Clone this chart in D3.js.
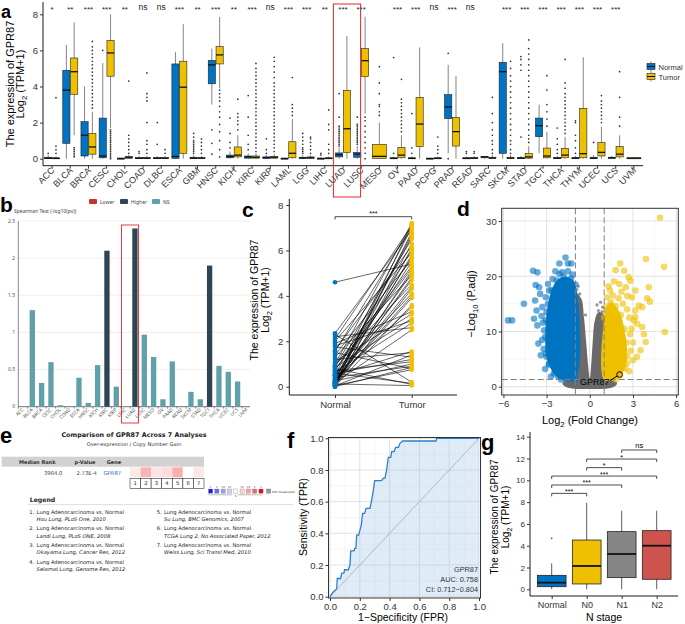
<!DOCTYPE html>
<html><head><meta charset="utf-8">
<script src="https://cdn.jsdelivr.net/npm/d3@7"></script>
<style>
body{margin:0;background:#fff;}
svg{display:block;font-family:"Liberation Sans",Arial,sans-serif;}
</style></head><body>
<svg id="fig" width="685" height="624"></svg>
<script>
// ---------- panel a data ----------
var cancers = ["ACC","BLCA","BRCA","CESC","CHOL","COAD","DLBC","ESCA","GBM","HNSC","KICH","KIRC","KIRP","LAML","LGG","LIHC","LUAD","LUSC","MESO","OV","PAAD","PCPG","PRAD","READ","SARC","SKCM","STAD","TGCT","THCA","THYM","UCEC","UCS","UVM"];
var signif = ["*","**","***","***","**","ns","ns","***","**","***","**","***","ns","***","***","**","***","***","","***","***","ns","***","ns","","***","***","***","***","***","***","***",""];
// [low whisker, q1, median, q3, high whisker]
var normalBox = [[0,0,0.03,0.08,0.2],[0,0.85,3.8,4.9,6.3],[0,0.15,1.3,2.05,4.0],[0,0.05,0.15,2.25,5.3],[0,0,0.01,0.03,0.05],[0,0,0.02,0.06,0.15],[0,0,0.02,0.06,0.15],[0,0.02,0.12,5.25,5.9],[0,0,0.03,0.08,0.2],[3.0,4.15,5.2,5.45,6.1],[0,0.05,0.12,0.2,0.4],[0,0.03,0.1,0.15,0.3],[0,0.02,0.06,0.1,0.2],[0,0,0.01,0.03,0.05],[0,0.01,0.04,0.08,0.2],[0,0,0.01,0.03,0.08],[0,0.1,0.22,0.32,0.6],[0,0.08,0.25,0.35,0.7],null,[0,0,0.02,0.05,0.1],[0,0,0.02,0.05,0.12],[0,0,0.01,0.03,0.05],[0.3,2.22,2.87,3.55,5.2],[0,0,0.02,0.05,0.12],[0,0.05,0.1,0.12,0.15],[0,0.3,4.82,5.34,6.4],[0,0,0.03,0.06,0.15],[0.3,1.22,1.83,2.25,3.0],[0,0.01,0.03,0.06,0.15],[0,0.01,0.03,0.06,0.15],[0,0.01,0.03,0.08,0.2],[0,0.02,0.05,0.08,0.15],null];
var tumorBox = [[0,0,0.02,0.05,0.12],[1.3,3.57,4.82,5.58,7.55],[0,0.25,0.65,1.4,2.6],[1.7,4.57,5.86,6.54,8.0],[0,0.02,0.08,0.12,0.2],[0,0.01,0.03,0.06,0.15],[0,0.01,0.03,0.06,0.15],[0,0.3,3.96,5.4,7.45],[0,0.01,0.03,0.06,0.15],[3.9,5.25,5.75,6.21,7.85],[0,0.1,0.2,0.65,1.3],[0,0.03,0.08,0.15,0.3],[0,0.03,0.08,0.12,0.25],[0,0.05,0.3,0.94,2.2],[0,0.02,0.05,0.1,0.2],[0,0,0.02,0.05,0.12],[0,0.35,1.66,3.79,6.8],[2.5,4.55,5.43,6.1,7.87],[0,0.02,0.13,0.79,2.0],[0,0.05,0.2,0.63,1.3],[0,0.67,1.92,3.4,6.17],[0,0,0.02,0.05,0.12],[0,0.7,1.5,2.29,4.58],[0,0,0.03,0.06,0.15],[0,0.01,0.04,0.08,0.2],[0,0.01,0.04,0.08,0.2],[0,0.03,0.1,0.28,0.7],[0,0.05,0.15,0.59,1.5],[0,0.05,0.2,0.57,1.2],[0,0.05,0.28,2.79,5.62],[0,0.15,0.35,0.89,1.77],[0,0.1,0.25,0.68,1.3],[0,0.01,0.03,0.05,0.1]];
var normalOut = [[0.3],[],[],[6.0],[],[0.3,0.4],[0.8,2.0],[],[0.3,0.4,0.5,0.6,0.7,0.8,0.9,1.0,1.2,1.4],[1.6,0.85,0.25],[0.6,0.9,1.4,2.25],[0.5,0.8,1.3,2.3,3.5],[0.3,0.5,1.1],[],[0.3,0.4,0.5,0.6,0.8,1.0,1.2,1.4],[0.2,0.3],[0.7,0.8,0.9,1.0,1.1,1.2,1.3,1.4,1.5,1.6,1.7,1.8,2.3,3.6],[0.8,0.9,1.0,1.1,1.2,1.3,1.4,1.5,1.6,1.7,1.8,1.9,2.3],[],[0.3,5.6],[0.3,0.6,2.5],[],[0,5.84],[0.3,0.4],[],[],[1.2,4.9,5.2,5.5,5.66],[],[0.3,0.5,0.8,1.1,1.7],[0.3,0.6,1.0,1.3,2.0,2.1],[0.9],[],[]];
var tumorOut = [[0.3,0.5,0.7,3.38],[0.1,0.2,0.3,0.4,0.5,0.6],[2.8,3.0,3.2,3.4,3.6,3.8,4.0,4.2,4.4,4.6,4.8,5.0,5.2,5.4,5.6,5.8,6.0,6.2,6.5],[0,0.1,0.2,0.3,0.4,0.5,0.6,0.7,0.8,0.9,1.0,1.1,1.2,1.3,1.4,1.5,1.6],[0.3,0.5,0.7,0.9,1.1,1.3,4.3],[0.3,0.5,0.8,1.0,2.0,3.2,3.4,3.6,4.75],[0.3,0.5],[],[0.3,0.5,0.7,0.9,1.1],[0.1,0.5,1.0,1.5,1.9,2.3,2.6,2.9,3.2,3.4,3.6,3.8],[1.6,1.9,2.1,2.3,2.5,3.3],[0.4,0.6,0.8,1.0,1.2,1.4,1.6,1.8,2.0,2.2,2.4,2.6,2.8,3.0,3.2,3.4,3.6,3.8,4.0,4.2,4.4,4.6,4.8,5.0,5.28],[0.4,0.6,0.8,1.0,1.2,1.4,1.6,1.8,2.0,2.2,2.4,2.6,2.8,3.0,3.2,3.4,3.6,3.8,4.0,4.2,4.5,4.8,5.1,5.4,5.62],[2.4,2.6,2.8,3.0,4.5],[0.3,0.5,0.7,0.9,1.1,1.2],[0.3,0.5,0.8,1.6,1.9,2.7],[],[0,0.3,0.6,0.9,1.2,1.5,1.8,2.1,2.3],[2.4,2.6,2.9,3.0,3.6,4.2,5.1],[1.5,1.7,1.9,2.1,2.3,2.5,2.7,2.9,3.1,3.3,4.4],[],[0.3,0.5,0.7,1.2],[],[0.3,0.4],[0.3,0.5,0.8,1.0,1.3,1.6,2.0,2.5,3.4],[0.3,0.5,0.8,1.0,1.3,1.6,1.9,2.2,2.5,2.8,3.1,3.4,3.7,4.0,4.3,4.6,5.0,5.4],[0.9,1.1,1.3,1.6,1.9,2.2,2.5,2.8,3.1,3.4,3.7,4.0,4.3,4.6,4.9,5.2,5.5,5.8,6.1,6.58],[1.8,2.2,2.6,3.0,3.8,4.6],[1.4,1.6,1.8,2.0,2.2,2.4,2.6,2.8,3.0,3.2,3.4,3.6,3.9,4.2,5.5],[],[2.0,2.2,2.4,2.6,2.8,3.0,3.2,3.5],[1.8,2.3,3.4,4.82],[]];
var aTicks = [0,2,4,6,8];

// ---------- panel b data ----------
var bCats = ["ACC","BLCA","BRCA","CESC","CHOL","COAD","ESCA","HNSC","KICH","KIRC","KIRP","LIHC","LUAD","LUSC","MESO","OV","PAAD","READ","SKCM","STAD","TGCT","THCA","UCEC","UCS","UVM"];
var bVals = [0,1.3,0.32,0.6,0.02,0,0.39,0.05,0.56,2.1,0.27,0,2.4,0.97,0.67,0.1,0.61,0,0.2,0.1,1.9,0.55,0.47,0.34,0];
var bType = ["NS","NS","NS","NS","NS","NS","NS","NS","NS","Higher","NS","NS","Higher","NS","NS","NS","NS","NS","NS","NS","Higher","NS","NS","NS","NS"];
var bTicks = [0,0.5,1,1.5,2,2.5];
var bLegend = ["Lower","Higher","NS"];

// ---------- panel c data (paired LUAD samples) ----------
var cNormal = [4.6,2.35,2.2,2.1,2.0,1.9,1.75,1.6,1.5,1.4,1.3,1.2,1.0,0.95,0.9,0.85,0.8,0.75,0.7,0.65,0.6,0.55,0.5,0.45,0.4,0.35,0.3,0.28,0.25,0.22,0.2,0.18,0.15,0.12,0.1,0.08,0.05,0.03,0.0,1.1,0.6,0.4,0.2,0.1,0.05,1.8,0.9,0.7,0.3,0.15,0.02,2.3,1.55,0.5,0.25,0.0,0.12];
var cTumor = [5.4,6.9,2.6,7.1,5.9,3.3,1.3,6.2,0.8,5.6,4.9,1.5,7.2,4.5,6.5,3.0,0.1,5.2,6.0,2.8,1.2,4.1,7.0,5.7,0.9,3.5,6.7,4.7,1.0,5.0,6.3,2.5,3.9,0.05,5.8,7.15,4.3,1.4,6.1,3.2,0.15,5.5,4.0,6.8,0.75,2.9,5.3,1.1,6.6,4.8,3.6,0.2,7.05,1.55,4.4,0.85,5.1];
var cTicks = [0,2,4,6,8];

// ---------- panel d data (volcano) ----------
var dCoreBlue = [[-1.0,1.3],[-1.0,18.5],[-1.3,19.6],[-1.8,19.9],[-2.3,19.2],[-2.65,17.5],[-2.9,15],[-3.05,12],[-3.1,9],[-3.05,6],[-2.85,4],[-2.5,2.4],[-2.0,1.3]];
var dCoreGray = [[-1.0,1.3],[-1.0,17.0],[-0.6,16.0],[-0.4,12.5],[-0.25,8],[-0.12,4],[0,1.5],[0.1,4],[0.2,8],[0.35,12],[0.6,13.5],[1.0,13.0],[1.0,1.3],[1.6,1.3],[1.9,0.6],[1.5,-0.2],[0,-0.4],[-1.5,-0.2],[-1.9,0.6],[-1.6,1.3]];
var dCoreYellow = [[1.0,1.3],[1.0,12.5],[1.15,14.5],[1.45,15.3],[1.8,14.6],[2.15,13.0],[2.4,10.5],[2.55,8],[2.6,5.5],[2.45,3.3],[2.1,2.0],[1.8,1.3]];
var dDown = [[-1.69,23.4],[-2.11,22.3],[-1.52,22.3],[-1.29,22.3],[-3.94,21.0],[-3.64,20.7],[-2.39,20.9],[-1.92,20.7],[-3.76,18.4],[-3.52,18.0],[-4.58,15.0],[-5.68,12.0],[-5.4,12.0],[-3.8,15.6],[-3.7,13.8],[-3.87,12.3],[-3.64,11.1],[-3.57,7.8],[-3.4,5.7],[-3.0,5.4],[-2.82,4.2],[-2.39,2.7],[-2.7,1.8],[-3.17,10.2],[-3.29,14.4],[-3.05,16.2],[-2.82,17.4],[-2.58,19.5],[-2.11,20.4],[-1.52,20.9],[-3.3,8.5],[-3.2,6.8],[-3.35,12.8],[-3.1,3.2],[-2.2,1.9],[-1.2,20.3],[-2.9,18.6],[-3.45,16.8],[-3.0,13.5],[-3.25,11.6]];
var dUp = [[4.88,30.6],[5.16,21.7],[3.9,23.1],[2.11,22.3],[1.8,21.1],[2.39,21.0],[1.69,19.1],[2.7,19.8],[2.82,19.2],[4.1,18.0],[3.17,17.4],[2.93,16.2],[3.99,16.0],[4.18,15.4],[3.41,14.7],[3.64,14.4],[3.17,12.6],[3.29,11.4],[3.64,10.8],[3.76,9.5],[3.88,8.1],[5.21,9.9],[3.52,6.6],[3.29,5.4],[3.0,4.8],[2.58,4.2],[2.23,3.3],[2.0,2.7],[3.17,13.8],[1.2,16.2],[1.41,17.4],[2.9,10.5],[3.0,8.0],[2.85,6.5],[2.5,18.0],[2.05,18.6],[3.05,12.0],[2.75,2.8],[1.6,16.5],[2.0,16.0],[2.3,15.0],[2.6,14.0],[2.75,12.5],[2.8,9.5],[1.3,18.2],[2.2,17.2],[2.6,16.4]];
var dNS = [[-0.8,18.2],[-0.7,16.8],[0.5,14.8],[0.75,15.3],[0.9,14.4],[0.6,13.8],[-0.3,13.0],[-0.9,17.6],[0.85,13.6]];
var dGene = {name:"GPR87", fc:2.07, p:2.2};
var dXTicks = [-6,-3,0,3,6], dYTicks = [0,10,20,30];

// ---------- panel e data (Oncomine) ----------
var eCells = ["#fde8e8","#f8b4b4","#fde4e4","#fcdcdc","#f7b0b0","#ffffff","#fde6e6"];
var eScale = ["#1a1ae6","#6a6af0","#9c9cf4","#cfcff9","#ffffff","#fbd3d3","#f6a3a3","#ee6a6a","#e01010"];
var eScaleNum = ["1","5","10","25","","25","10","5","1"];
var eLegend = [
  ["1.","Lung Adenocarcinoma vs. Normal","Hou Lung, PLoS One, 2010"],
  ["2.","Lung Adenocarcinoma vs. Normal","Landi Lung, PLoS ONE, 2008"],
  ["3.","Lung Adenocarcinoma vs. Normal","Okayama Lung, Cancer Res, 2012"],
  ["4.","Lung Adenocarcinoma vs. Normal","Selamat Lung, Genome Res, 2012"],
  ["5.","Lung Adenocarcinoma vs. Normal","Su Lung, BMC Genomics, 2007"],
  ["6.","Lung Adenocarcinoma vs. Normal","TCGA Lung 2, No Associated Paper, 2012"],
  ["7.","Lung Adenocarcinoma vs. Normal","Weiss Lung, Sci Transl Med, 2010"]];

// ---------- panel f data (ROC) ----------
var rocFPR = [0,0.022,0.045,0.049,0.072,0.078,0.094,0.098,0.123,0.134,0.139,0.161,0.166,0.174,0.179,0.192,0.201,0.21,0.219,0.232,0.242,0.268,0.28,0.291,0.3,0.347,0.358,0.369,0.38,0.391,0.407,0.414,0.43,0.441,0.459,0.47,0.488,0.712,0.716,1.0];
var rocTPR = [0,0.03,0.05,0.115,0.115,0.147,0.15,0.17,0.17,0.2,0.289,0.289,0.305,0.305,0.389,0.389,0.42,0.452,0.526,0.526,0.558,0.558,0.61,0.674,0.733,0.733,0.748,0.748,0.8,0.88,0.88,0.916,0.916,0.943,0.943,0.968,0.983,0.983,1.0,1.0];
var rocText = ["GPR87","AUC: 0.758","CI: 0.712\u22120.804"];
var fTicks = [0,0.2,0.4,0.6,0.8,1.0];

// ---------- panel g data ----------
var gGroups = ["Normal","N0","N1","N2"];
var gBox = [[0,0.24,0.61,1.28,2.38],[0,0.49,2.14,4.52,7.95],[0,1.07,3.24,5.29,7.21],[0,0.92,4.0,5.38,7.21]];
var gOut = [[4.68],[],[],[]];
var gComp = [["N1","N2",12.78,"ns"],["N0","N2",11.95,"*"],["N0","N1",11.16,"*"],["Normal","N2",10.39,"***"],["Normal","N1",9.57,"***"],["Normal","N0",8.8,"***"]];
var gTicks = [0,2,4,6,8,10,12,14];

var BLUE = "#0073C2", YEL = "#EFC000", GRY = "#868686", RED = "#CD534C";
var FONT = "'Liberation Sans', Arial, sans-serif";
var svg = d3.select("#fig");

function logText(sel, pre, base, post) {
  sel.append("tspan").text(pre + base);
  sel.append("tspan").attr("font-size", "70%").attr("dy", 3).text("2");
  sel.append("tspan").attr("dy", -3).text(post);
}
function vlabel(x, y, fs) {
  return svg.append("text").attr("transform", "translate(" + x + "," + y + ") rotate(-90)")
    .attr("text-anchor", "middle").attr("font-size", fs).attr("fill", "#000");
}
function letter(t, x, y, fs) {
  svg.append("text").attr("x", x).attr("y", y).attr("font-size", fs || 21)
    .attr("font-weight", "bold").attr("font-family", "'Liberation Sans', Arial").text(t);
}
function styleAxis(g, fs) {
  g.attr("font-family", FONT).attr("font-size", fs);
  g.select(".domain").remove();
  g.selectAll("text").attr("fill", "#333");
  g.selectAll("line").attr("stroke", "#333");
}
function drawBox(g, cx, w, st, y, fill, outs, lw, medw, r) {
  g.append("line").attr("x1", cx).attr("x2", cx).attr("y1", y(st[0])).attr("y2", y(st[4]))
    .attr("stroke", "#333").attr("stroke-width", lw);
  var top = y(st[3]), h = Math.max(y(st[1]) - y(st[3]), 1);
  g.append("rect").attr("x", cx - w / 2).attr("y", top).attr("width", w).attr("height", h)
    .attr("fill", fill).attr("stroke", "#222").attr("stroke-width", lw);
  g.append("line").attr("x1", cx - w / 2).attr("x2", cx + w / 2).attr("y1", y(st[2])).attr("y2", y(st[2]))
    .attr("stroke", "#111").attr("stroke-width", medw);
  g.selectAll(null).data(outs).enter().append("circle")
    .attr("cx", cx).attr("cy", function(d) { return y(d); }).attr("r", r).attr("fill", "#333");
}

// ================= panel a =================
(function() {
  var g = svg.append("g");
  var x = d3.scaleBand().domain(cancers).range([43, 643]);
  var y = d3.scaleLinear().domain([0, 8]).range([158.7, 14.3]);
  g.append("line").attr("x1", 43).attr("x2", 43).attr("y1", 2).attr("y2", 165.7).attr("stroke", "#000").attr("stroke-width", 0.9);
  g.append("line").attr("x1", 43).attr("x2", 643).attr("y1", 165.7).attr("y2", 165.7).attr("stroke", "#000").attr("stroke-width", 0.9);
  var ay = g.append("g").attr("transform", "translate(43,0)")
    .call(d3.axisLeft(y).tickValues(aTicks).tickSize(3).tickPadding(2));
  styleAxis(ay, 9.5);
  cancers.forEach(function(c, i) {
    var cx = x(c) + x.bandwidth() / 2;
    g.append("line").attr("x1", cx).attr("x2", cx).attr("y1", 165.7).attr("y2", 168.7).attr("stroke", "#333");
    g.append("text").attr("transform", "translate(" + (cx + 3) + ",171) rotate(-45)")
      .attr("text-anchor", "end").attr("font-size", 9).attr("fill", "#333").text(c);
    g.append("text").attr("x", cx).attr("y", signif[i] === "ns" ? 10 : 12).attr("text-anchor", "middle")
      .attr("font-size", signif[i] === "ns" ? 8.5 : 8).attr("fill", "#222").text(signif[i]);
    var nb = normalBox[i], tb = tumorBox[i];
    if (nb && tb) {
      drawBox(g, cx - 3.9, 7.2, nb, y, BLUE, normalOut[i], 0.6, 1.3, 0.85);
      drawBox(g, cx + 3.9, 7.2, tb, y, YEL, tumorOut[i], 0.6, 1.3, 0.85);
    } else if (tb) {
      drawBox(g, cx, 14, tb, y, YEL, tumorOut[i], 0.6, 1.3, 0.85);
    }
  });
  // y title
  vlabel(14, 84, 11).text("The expression of GPR87");
  logText(vlabel(24, 84, 11), "", "Log", " (TPM+1)");
  // legend
  [["Normal", BLUE], ["Tumor", YEL]].forEach(function(d, i) {
    var yy = 63 + i * 10;
    g.append("line").attr("x1", 651).attr("x2", 651).attr("y1", yy - 1.5).attr("y2", yy + 8.5).attr("stroke", "#333").attr("stroke-width", 0.6);
    g.append("rect").attr("x", 647).attr("y", yy + 0.5).attr("width", 8).attr("height", 6).attr("fill", d[1]).attr("stroke", "#222").attr("stroke-width", 0.6);
    g.append("line").attr("x1", 647).attr("x2", 655).attr("y1", yy + 3.5).attr("y2", yy + 3.5).attr("stroke", "#111").attr("stroke-width", 1);
    g.append("text").attr("x", 658.5).attr("y", yy + 6.5).attr("font-size", 7.5).attr("fill", "#333").text(d[0]);
  });
  // highlight LUAD
  g.append("rect").attr("x", x("LUAD") - 0.5).attr("y", 4).attr("width", x.bandwidth() + 9).attr("height", 193)
    .attr("fill", "none").attr("stroke", "#e8262b").attr("stroke-width", 1);
  letter("a", 1, 18, 18);
})();

// ================= panel b =================
(function() {
  var g = svg.append("g").attr("font-family", "'Noto Sans', 'Open Sans', sans-serif");
  var x = d3.scaleBand().domain(bCats).range([18.3, 251.6]).paddingInner(0.43).paddingOuter(0.215);
  var y = d3.scaleLinear().domain([0, 2.5]).range([406.7, 221]);
  var col = {Lower: "#c23531", Higher: "#2f4554", NS: "#61a0a8"};
  bTicks.forEach(function(t) {
    g.append("line").attr("x1", 18.3).attr("x2", 250).attr("y1", y(t)).attr("y2", y(t))
      .attr("stroke", t === 0 ? "#333" : "#e4e4e4").attr("stroke-width", t === 0 ? 0.7 : 0.6);
    g.append("text").attr("x", 15).attr("y", y(t) + 1.7).attr("text-anchor", "end")
      .attr("font-size", 5).attr("fill", "#555").text(t);
  });
  g.append("line").attr("x1", 18.3).attr("x2", 18.3).attr("y1", 221).attr("y2", 406.7).attr("stroke", "#333").attr("stroke-width", 0.6);
  g.selectAll(".bar").data(bVals).enter().append("rect")
    .attr("x", function(d, i) { return x(bCats[i]); })
    .attr("y", function(d) { return y(d); })
    .attr("width", x.bandwidth())
    .attr("height", function(d) { return y(0) - y(d); })
    .attr("fill", function(d, i) { return col[bType[i]]; });
  bCats.forEach(function(c) {
    var cx = x(c) + x.bandwidth() / 2;
    g.append("line").attr("x1", cx - 4.7).attr("x2", cx - 4.7).attr("y1", 406.7).attr("y2", 408.7).attr("stroke", "#333").attr("stroke-width", 0.5);
    g.append("text").attr("transform", "translate(" + (cx + 1) + ",410) rotate(-45)")
      .attr("text-anchor", "end").attr("font-size", 4.8).attr("fill", "#555").text(c);
  });
  g.append("text").attr("x", 14).attr("y", 213).attr("font-size", 5).attr("fill", "#444").text("Spearman Test (-log10(pv))");
  var lx = [89, 120, 152];
  bLegend.forEach(function(l, i) {
    g.append("rect").attr("x", lx[i]).attr("y", 199).attr("width", 8).attr("height", 5).attr("rx", 1)
      .attr("fill", col[l]);
    g.append("text").attr("x", lx[i] + 11).attr("y", 203.5).attr("font-size", 5).attr("fill", "#444").text(l);
  });
  g.append("rect").attr("x", 121.5).attr("y", 225).attr("width", 17).attr("height", 198)
    .attr("fill", "none").attr("stroke", "#e8262b").attr("stroke-width", 0.9);
  letter("b", 0, 212, 21);
})();

// ================= panel c =================
(function() {
  var g = svg.append("g");
  var x = d3.scalePoint().domain(["Normal", "Tumor"]).range([335, 411.7]);
  var y = d3.scaleLinear().domain([0, 8]).range([386.7, 205]);
  g.append("line").attr("x1", 289.3).attr("x2", 289.3).attr("y1", 199).attr("y2", 395).attr("stroke", "#000").attr("stroke-width", 0.9);
  g.append("line").attr("x1", 289.3).attr("x2", 457).attr("y1", 395).attr("y2", 395).attr("stroke", "#000").attr("stroke-width", 0.9);
  var ay = g.append("g").attr("transform", "translate(289.3,0)")
    .call(d3.axisLeft(y).tickValues(cTicks).tickSize(3).tickPadding(3));
  styleAxis(ay, 9.5);
  var ax = g.append("g").attr("transform", "translate(0,395)")
    .call(d3.axisBottom(x).tickSize(3).tickPadding(3));
  styleAxis(ax, 9.5);
  cNormal.forEach(function(v, i) {
    g.append("line").attr("x1", x("Normal")).attr("x2", x("Tumor")).attr("y1", y(v)).attr("y2", y(cTumor[i]))
      .attr("stroke", "#000").attr("stroke-width", 0.6);
  });
  g.selectAll(".pn").data(cNormal).enter().append("circle").attr("cx", x("Normal"))
    .attr("cy", function(d) { return y(d); }).attr("r", 2.3).attr("fill", BLUE);
  g.selectAll(".pt").data(cTumor).enter().append("circle").attr("cx", x("Tumor"))
    .attr("cy", function(d) { return y(d); }).attr("r", 2.3).attr("fill", YEL);
  g.append("path").attr("d", "M" + x("Normal") + ",219.5V216.7H" + x("Tumor") + "V219.5")
    .attr("fill", "none").attr("stroke", "#000").attr("stroke-width", 0.7);
  g.append("text").attr("x", (x("Normal") + x("Tumor")) / 2).attr("y", 216).attr("text-anchor", "middle")
    .attr("font-size", 7).text("***");
  vlabel(257.5, 300, 10.5).text("The expression of GPR87");
  logText(vlabel(268.5, 300, 10.5), "", "Log", " (TPM+1)");
  letter("c", 242, 217, 21);
})();

// ================= panel d =================
(function() {
  var g = svg.append("g");
  var x = d3.scaleLinear().domain([-6.12, 6.15]).range([501.7, 678.3]);
  var y = d3.scaleLinear().domain([0, 30]).range([386.7, 221]);
  var top = 208.3, bot = 395;
  g.append("defs").append("clipPath").attr("id", "clipD").append("rect")
    .attr("x", 501.7).attr("y", top).attr("width", 176.6).attr("height", bot - top);
  [-4.5, -1.5, 1.5, 4.5].forEach(function(t) {
    g.append("line").attr("x1", x(t)).attr("x2", x(t)).attr("y1", top).attr("y2", bot).attr("stroke", "#f0f0f0").attr("stroke-width", 0.6);
  });
  [5, 15, 25].forEach(function(t) {
    g.append("line").attr("x1", 501.7).attr("x2", 678.3).attr("y1", y(t)).attr("y2", y(t)).attr("stroke", "#f0f0f0").attr("stroke-width", 0.6);
  });
  dXTicks.forEach(function(t) {
    g.append("line").attr("x1", x(t)).attr("x2", x(t)).attr("y1", top).attr("y2", bot).attr("stroke", "#e2e2e2").attr("stroke-width", 1);
  });
  dYTicks.forEach(function(t) {
    g.append("line").attr("x1", 501.7).attr("x2", 678.3).attr("y1", y(t)).attr("y2", y(t)).attr("stroke", "#e2e2e2").attr("stroke-width", 1);
  });
  var pg = g.append("g").attr("clip-path", "url(#clipD)");
  var line = d3.line().x(function(d) { return x(d[0]); }).y(function(d) { return y(d[1]); }).curve(d3.curveCatmullRomClosed);
  pg.append("path").attr("d", line(dCoreGray)).attr("fill", "#6a6a6a");
  pg.append("path").attr("d", line(dCoreBlue)).attr("fill", BLUE);
  pg.append("path").attr("d", line(dCoreYellow)).attr("fill", YEL);
  function pts(data, color, r, op) {
    pg.selectAll(null).data(data).enter().append("circle")
      .attr("cx", function(d) { return x(d[0]); }).attr("cy", function(d) { return y(d[1]); })
      .attr("r", r).attr("fill", color).attr("fill-opacity", op);
  }
  pts(dCoreBlue, BLUE, 3.3, 0.6);
  pts(dCoreYellow.slice(1), YEL, 3.3, 0.6);
  pts(dNS, "#6a6a6a", 1.6, 0.7);
  pts(dDown, BLUE, 3.3, 0.6);
  pts(dUp, YEL, 3.3, 0.6);
  [-1, 1].forEach(function(t) {
    pg.append("line").attr("x1", x(t)).attr("x2", x(t)).attr("y1", top).attr("y2", bot)
      .attr("stroke", "#808080").attr("stroke-dasharray", "6,3").attr("stroke-width", 1);
  });
  pg.append("line").attr("x1", 501.7).attr("x2", 678.3).attr("y1", y(1.3)).attr("y2", y(1.3))
    .attr("stroke", "#808080").attr("stroke-dasharray", "6,3").attr("stroke-width", 1);
  // labelled gene
  pg.append("circle").attr("cx", x(dGene.fc)).attr("cy", y(dGene.p)).attr("r", 2.8)
    .attr("fill", "none").attr("stroke", "#000").attr("stroke-width", 1);
  pg.append("line").attr("x1", x(dGene.fc) - 2.5).attr("y1", y(dGene.p) + 1.5)
    .attr("x2", x(dGene.fc) - 9.5).attr("y2", y(dGene.p) + 6).attr("stroke", "#000").attr("stroke-width", 1);
  g.append("text").attr("x", x(dGene.fc) - 10).attr("y", y(dGene.p) + 10).attr("text-anchor", "end")
    .attr("font-size", 9).text(dGene.name);
  g.append("rect").attr("x", 501.7).attr("y", top).attr("width", 176.6).attr("height", bot - top)
    .attr("fill", "none").attr("stroke", "#333").attr("stroke-width", 1);
  var ax = g.append("g").attr("transform", "translate(0," + bot + ")")
    .call(d3.axisBottom(x).tickValues(dXTicks).tickSize(3).tickPadding(2).tickFormat(d3.format("")));
  styleAxis(ax, 9.5);
  ax.selectAll("text").text(function(d) { return d < 0 ? "\u2212" + Math.abs(d) : d; });
  var ay = g.append("g").attr("transform", "translate(501.7,0)")
    .call(d3.axisLeft(y).tickValues(dYTicks).tickSize(3).tickPadding(2));
  styleAxis(ay, 9.5);
  var yl = vlabel(475, 304, 11);
  yl.append("tspan").text("\u2212Log");
  yl.append("tspan").attr("font-size", "70%").attr("dy", 3).text("10");
  yl.append("tspan").attr("dy", -3).text(" (P.adj)");
  var xl = g.append("text").attr("x", 590).attr("y", 424).attr("text-anchor", "middle").attr("font-size", 11);
  logText(xl, "", "Log", " (Fold Change)");
  letter("d", 457, 216, 21);
})();

// ================= panel e =================
(function() {
  var g = svg.append("g").attr("font-family", "'DejaVu Sans', Verdana, sans-serif");
  g.append("text").attr("x", 134).attr("y", 436.5).attr("text-anchor", "middle").attr("font-size", 6.4)
    .attr("font-weight", "bold").attr("fill", "#222").text("Comparison of GPR87 Across 7 Analyses");
  g.append("text").attr("x", 134).attr("y", 446).attr("text-anchor", "middle").attr("font-size", 5.1)
    .attr("fill", "#333").text("Over-expression / Copy Number Gain");
  g.append("rect").attr("x", 1.7).attr("y", 456.7).attr("width", 202.3).attr("height", 10).attr("fill", "#d2d2d2");
  [["Median Rank", 37.3], ["p-Value", 85], ["Gene", 114]].forEach(function(h) {
    g.append("text").attr("x", h[1]).attr("y", 463.8).attr("text-anchor", "middle").attr("font-size", 5)
      .attr("font-weight", "bold").attr("fill", "#333").text(h[0]);
  });
  g.append("text").attr("x", 62.5).attr("y", 474.5).attr("text-anchor", "end").attr("font-size", 5.3).attr("fill", "#444").text("3964.0");
  g.append("text").attr("x", 97).attr("y", 474.5).attr("text-anchor", "end").attr("font-size", 5.3).attr("fill", "#444").text("2.73E-4");
  g.append("text").attr("x", 103.5).attr("y", 474.5).attr("font-size", 5.3).attr("fill", "#3b73b9").text("GPR87");
  var cw = 74 / 7;
  eCells.forEach(function(c, i) {
    g.append("rect").attr("x", 130 + i * cw).attr("y", 467.3).attr("width", cw).attr("height", 10).attr("fill", c);
    g.append("rect").attr("x", 130 + i * cw).attr("y", 478.3).attr("width", cw).attr("height", 10)
      .attr("fill", "#fff").attr("stroke", "#333").attr("stroke-width", 0.6);
    g.append("text").attr("x", 130 + (i + 0.5) * cw).attr("y", 485.3).attr("text-anchor", "middle")
      .attr("font-size", 5.3).attr("fill", "#222").text(i + 1);
  });
  // colour key
  eScale.forEach(function(c, i) {
    var xx = 208.5 + i * 6.3;
    g.append("rect").attr("x", xx).attr("y", 489).attr("width", 4.2).attr("height", 4.2).attr("fill", c)
      .attr("stroke", "#777").attr("stroke-width", 0.3);
    g.append("text").attr("x", xx + 2.1).attr("y", 487.6).attr("text-anchor", "middle").attr("font-size", 2.6)
      .attr("fill", "#444").text(eScaleNum[i]);
  });
  g.append("text").attr("x", 210.6 + 4 * 6.3).attr("y", 496.8).attr("text-anchor", "middle").attr("font-size", 2.6).attr("fill", "#444").text("%");
  g.append("line").attr("x1", 208.5).attr("x2", 232).attr("y1", 494.8).attr("y2", 494.8).attr("stroke", "#555").attr("stroke-width", 0.4);
  g.append("line").attr("x1", 238).attr("x2", 262).attr("y1", 494.8).attr("y2", 494.8).attr("stroke", "#555").attr("stroke-width", 0.4);
  g.append("rect").attr("x", 266.5).attr("y", 489).attr("width", 4.2).attr("height", 4.2).attr("fill", "#999").attr("stroke", "#666").attr("stroke-width", 0.3);
  g.append("text").attr("x", 272).attr("y", 492.6).attr("font-size", 3.2).attr("fill", "#444").text("Not measured");
  g.append("text").attr("x", 29.7).attr("y", 502.3).attr("font-size", 6.2).attr("font-weight", "bold").attr("fill", "#222").text("Legend");
  g.append("line").attr("x1", 28).attr("x2", 293).attr("y1", 504.6).attr("y2", 504.6).attr("stroke", "#c8c8c8").attr("stroke-width", 0.6);
  var rows = [513.5, 530.3, 547.2, 564.2];
  eLegend.forEach(function(d, i) {
    var col = i < 4 ? 0 : 1, r = i < 4 ? i : i - 4;
    var x0 = col === 0 ? 29.3 : 156.7;
    g.append("text").attr("x", x0).attr("y", rows[r]).attr("font-size", 5.2).attr("fill", "#222").text(d[0]);
    g.append("text").attr("x", x0 + 7.3).attr("y", rows[r]).attr("font-size", 5.2).attr("fill", "#222").text(d[1]);
    g.append("text").attr("x", x0 + 7.3).attr("y", rows[r] + 7.2).attr("font-size", 5.2).attr("font-style", "italic")
      .attr("fill", "#222").text(d[2]);
  });
  letter("e", 0, 443, 22);
})();

// ================= panel f =================
(function() {
  var g = svg.append("g");
  var x = d3.scaleLinear().domain([0, 1]).range([330, 479]);
  var y = d3.scaleLinear().domain([0, 1]).range([596.7, 438.3]);
  var L = 328.5, R = 480.5, T = 437.5, B = 598;
  d3.range(0.1, 1, 0.2).forEach(function(t) {
    g.append("line").attr("x1", x(t)).attr("x2", x(t)).attr("y1", T).attr("y2", B).attr("stroke", "#f0f0f0").attr("stroke-width", 0.6);
    g.append("line").attr("x1", L).attr("x2", R).attr("y1", y(t)).attr("y2", y(t)).attr("stroke", "#f0f0f0").attr("stroke-width", 0.6);
  });
  fTicks.forEach(function(t) {
    g.append("line").attr("x1", x(t)).attr("x2", x(t)).attr("y1", T).attr("y2", B).attr("stroke", "#e2e2e2").attr("stroke-width", 1);
    g.append("line").attr("x1", L).attr("x2", R).attr("y1", y(t)).attr("y2", y(t)).attr("stroke", "#e2e2e2").attr("stroke-width", 1);
  });
  var pts = rocFPR.map(function(f, i) { return [f, rocTPR[i]]; });
  var area = d3.area().x(function(d) { return x(d[0]); }).y0(y(0)).y1(function(d) { return y(d[1]); });
  g.append("path").attr("d", area(pts)).attr("fill", "#9cc4e8").attr("fill-opacity", 0.32);
  g.append("line").attr("x1", x(0)).attr("y1", y(0)).attr("x2", x(1)).attr("y2", y(1)).attr("stroke", "#b0b0b0").attr("stroke-width", 0.9);
  var ln = d3.line().x(function(d) { return x(d[0]); }).y(function(d) { return y(d[1]); });
  g.append("path").attr("d", ln(pts)).attr("fill", "none").attr("stroke", "#2f7fcf").attr("stroke-width", 1.3);
  rocText.forEach(function(t, i) {
    g.append("text").attr("x", 478).attr("y", 572 + i * 10).attr("text-anchor", "end").attr("font-size", 7.3)
      .attr("fill", "#333").text(t);
  });
  g.append("rect").attr("x", L).attr("y", T).attr("width", R - L).attr("height", B - T)
    .attr("fill", "none").attr("stroke", "#333").attr("stroke-width", 1);
  var ax = g.append("g").attr("transform", "translate(0," + B + ")")
    .call(d3.axisBottom(x).tickValues(fTicks).tickSize(3).tickPadding(2).tickFormat(d3.format(".1f")));
  styleAxis(ax, 9.5);
  var ay = g.append("g").attr("transform", "translate(" + L + ",0)")
    .call(d3.axisLeft(y).tickValues(fTicks).tickSize(3).tickPadding(2).tickFormat(d3.format(".1f")));
  styleAxis(ay, 9.5);
  vlabel(307, 517, 10.5).text("Sensitivity (TPR)");
  g.append("text").attr("x", 403).attr("y", 621).attr("text-anchor", "middle").attr("font-size", 10.5).text("1\u2212Specificity (FPR)");
  letter("f", 287, 448, 22);
})();

// ================= panel g =================
(function() {
  var g = svg.append("g");
  var x = d3.scalePoint().domain(gGroups).range([551.7, 656.7]);
  var y = d3.scaleLinear().domain([0, 14]).range([589.3, 436.7]);
  var cols = [BLUE, YEL, GRY, RED];
  g.append("line").attr("x1", 530).attr("x2", 530).attr("y1", 432).attr("y2", 596).attr("stroke", "#000").attr("stroke-width", 0.9);
  g.append("line").attr("x1", 530).attr("x2", 678).attr("y1", 596).attr("y2", 596).attr("stroke", "#000").attr("stroke-width", 0.9);
  var ay = g.append("g").attr("transform", "translate(530,0)")
    .call(d3.axisLeft(y).tickValues(gTicks).tickSize(3).tickPadding(2));
  styleAxis(ay, 8);
  var ax = g.append("g").attr("transform", "translate(0,596)")
    .call(d3.axisBottom(x).tickSize(3).tickPadding(3));
  styleAxis(ax, 9);
  gGroups.forEach(function(k, i) {
    drawBox(g, x(k), 28.7, gBox[i], y, cols[i], gOut[i], 0.8, 1.8, 0.8);
  });
  gComp.forEach(function(c) {
    var x1 = x(c[0]), x2 = x(c[1]), yy = y(c[2]);
    g.append("path").attr("d", "M" + x1 + "," + (yy + 3) + "V" + yy + "H" + x2 + "V" + (yy + 3))
      .attr("fill", "none").attr("stroke", "#000").attr("stroke-width", 0.7);
    g.append("text").attr("x", (x1 + x2) / 2).attr("y", yy - (c[3] === "ns" ? 1.5 : -0.5)).attr("text-anchor", "middle")
      .attr("font-size", c[3] === "ns" ? 7.5 : 7).text(c[3]);
  });
  vlabel(498, 517, 10).text("The expression of GPR87");
  logText(vlabel(508.5, 517, 10), "", "Log", " (TPM+1)");
  g.append("text").attr("x", 604).attr("y", 621).attr("text-anchor", "middle").attr("font-size", 10.5).text("N stage");
  letter("g", 481, 450, 22);
})();
</script></body></html>
